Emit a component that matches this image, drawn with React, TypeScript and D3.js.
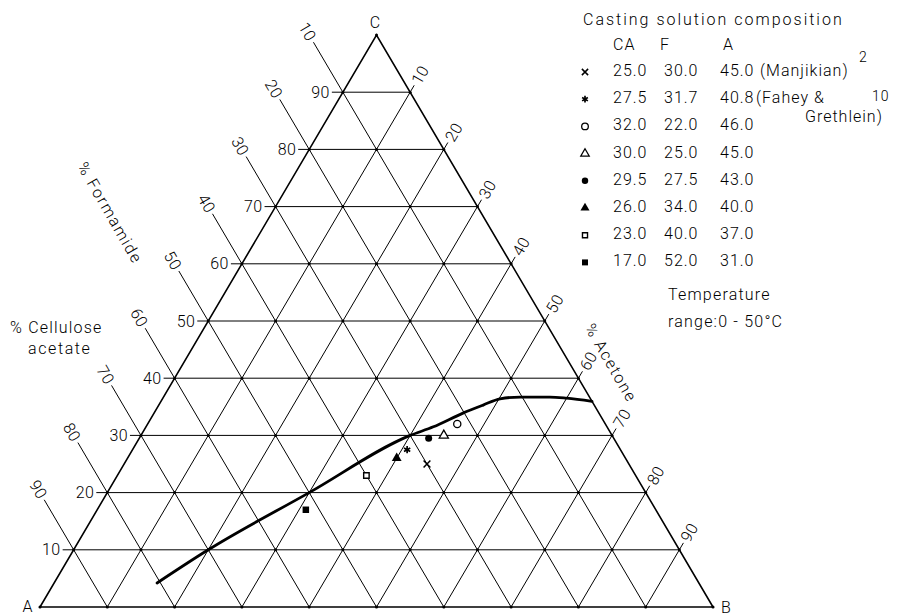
import React from "react";
import * as d3 from "d3";

// Ternary diagram: cellulose acetate (C apex), formamide (A corner), acetone (B corner)
const W = 897;
const H = 616;

const GRID_STEPS = [10, 20, 30, 40, 50, 60, 70, 80, 90];

// Casting solution compositions (wt %)
const symbolKinds = ["times", "asterisk", "openCircle", "openTriangle", "dot", "filledTriangle", "openSquare", "filledSquare"];
const caValues = [25.0, 27.5, 32.0, 30.0, 29.5, 26.0, 23.0, 17.0];
const fValues = [30.0, 31.7, 22.0, 25.0, 27.5, 34.0, 40.0, 52.0];
const aValues = [45.0, 40.8, 46.0, 45.0, 43.0, 40.0, 37.0, 31.0];

// Binodal (phase boundary) curve: cellulose acetate % and acetone %
const curveCA = [4.2, 10, 20, 30, 31.5, 33.9, 35.3, 36.4, 36.7, 36.7, 36.5, 35.95];
const curveAc = [15.3, 20, 30, 40, 42.7, 45.9, 48.2, 50.15, 53.0, 57.4, 60.0, 64.05];

const FONT = "Roboto, 'DejaVu Sans', sans-serif";

const xScale = d3.scaleLinear().domain([0, 100]).range([40, 713]);
const yScale = d3.scaleLinear().domain([0, 100]).range([607, 35]);

// position from cellulose acetate % and acetone %
const pt = (ca: number, ac: number): [number, number] => [xScale(ac + ca / 2), yScale(ca)];

const vA = pt(0, 0);
const vB = pt(0, 100);
const vC = pt(100, 0);

const unit = (p: [number, number], q: [number, number]): [number, number] => {
  const dx = q[0] - p[0];
  const dy = q[1] - p[1];
  const l = Math.hypot(dx, dy);
  return [dx / l, dy / l];
};
const dirBC = unit(vB, vC); // up-left, lines of constant formamide
const dirAC = unit(vA, vC); // up-right, lines of constant acetone

function Marker({ kind, x, y, scale = 1 }: { kind: string; x: number; y: number; scale?: number }) {
  const t = `translate(${x},${y})`;
  const s = scale;
  switch (kind) {
    case "times":
      return <path transform={t} d={d3.symbol(d3.symbolTimes, 32 * s)()!} fill="none" stroke="#000" strokeWidth={1.5} />;
    case "asterisk":
      return <path transform={t} d={d3.symbol(d3.symbolAsterisk, 36 * s)()!} fill="none" stroke="#000" strokeWidth={1.7} />;
    case "openCircle":
      return <circle cx={x} cy={y} r={3.6 * Math.sqrt(s)} fill="#fff" stroke="#000" strokeWidth={1.3} />;
    case "openTriangle":
      return <path transform={t} d={d3.symbol(d3.symbolTriangle, 36 * s)()!} fill="#fff" stroke="#000" strokeWidth={1.3} />;
    case "dot":
      return <circle cx={x} cy={y} r={3.5 * Math.sqrt(s)} fill="#000" />;
    case "filledTriangle":
      return <path transform={t} d={d3.symbol(d3.symbolTriangle, 42 * s)()!} fill="#000" />;
    case "openSquare":
      return <path transform={t} d={d3.symbol(d3.symbolSquare, 30 * s)()!} fill="#fff" stroke="#000" strokeWidth={1.4} />;
    case "filledSquare":
      return <path transform={t} d={d3.symbol(d3.symbolSquare, 42 * s)()!} fill="#000" />;
    default:
      return null;
  }
}

export default function App() {
  const gridLines: JSX.Element[] = [];
  const labels: JSX.Element[] = [];

  GRID_STEPS.forEach((v) => {
    // constant cellulose acetate: horizontal
    const l1 = pt(v, 0);
    const r1 = pt(v, 100 - v);
    gridLines.push(<line key={`ca${v}`} x1={l1[0] - 11} y1={l1[1]} x2={r1[0]} y2={r1[1]} />);
    labels.push(
      <text key={`tca${v}`} x={l1[0] - 13} y={l1[1] + 5.5} textAnchor="end">{v}</text>
    );

    // constant formamide f = v: from AC edge (ca = 100 - v) to AB edge (ac = 100 - v)
    const fTop = pt(100 - v, 0);
    const fBot = pt(0, 100 - v);
    gridLines.push(
      <line key={`f${v}`} x1={fTop[0] + dirBC[0] * 58} y1={fTop[1] + dirBC[1] * 58} x2={fBot[0]} y2={fBot[1]} />
    );
    const fl: [number, number] = [fTop[0] + dirBC[0] * 70, fTop[1] + dirBC[1] * 70];
    labels.push(
      <text key={`tf${v}`} x={fl[0]} y={fl[1]} textAnchor="middle" dominantBaseline="central" transform={`rotate(60,${fl[0]},${fl[1]})`}>{v}</text>
    );

    // constant acetone a = v: from AB edge to CB edge (ca = 100 - v)
    const aBot = pt(0, v);
    const aTop = pt(100 - v, v);
    gridLines.push(
      <line key={`a${v}`} x1={aBot[0]} y1={aBot[1]} x2={aTop[0] + dirAC[0] * 8} y2={aTop[1] + dirAC[1] * 8} />
    );
    const al: [number, number] = [aTop[0] + dirAC[0] * 20, aTop[1] + dirAC[1] * 20];
    labels.push(
      <text key={`ta${v}`} x={al[0]} y={al[1]} textAnchor="middle" dominantBaseline="central" transform={`rotate(-60,${al[0]},${al[1]})`}>{v}</text>
    );
  });

  const nodes: [number, number][] = [];
  for (let ca = 0; ca <= 100; ca += 10) {
    for (let ac = 0; ac + ca <= 100; ac += 10) nodes.push(pt(ca, ac));
  }

  const curvePath = d3
    .line<number>()
    .x((_, i) => pt(curveCA[i], curveAc[i])[0])
    .y((_, i) => pt(curveCA[i], curveAc[i])[1])
    .curve(d3.curveMonotoneX)(curveCA)!;

  const rowY = d3.scaleLinear().domain([0, 7]).range([76, 266.4]);

  return (
    <svg width={W} height={H} style={{ position: "absolute", left: 0, top: 0, background: "#fff" }} fontFamily={FONT} fontWeight={300} fontSize={16}>
      <rect width={W} height={H} fill="#fff" />
      <g stroke="#000" strokeWidth={1} fill="none">{gridLines}</g>
      <path d={`M${vA[0]},${vA[1]}L${vB[0]},${vB[1]}L${vC[0]},${vC[1]}Z`} fill="none" stroke="#000" strokeWidth={1.6} strokeLinejoin="miter" />
      <g fill="#000">
        {nodes.map((n, i) => (
          <circle key={i} cx={n[0]} cy={n[1]} r={1.5} />
        ))}
      </g>
      <g fill="#000" letterSpacing={0.4}>{labels}</g>

      <path d={curvePath} fill="none" stroke="#000" strokeWidth={2.8} strokeLinecap="round" />

      {caValues.map((ca, i) => {
        const p = pt(ca, aValues[i]);
        return <Marker key={i} kind={symbolKinds[i]} x={p[0]} y={p[1]} />;
      })}

      {/* corner and axis titles */}
      <g fill="#000" letterSpacing={1}>
        <text x={vC[0] - 1} y={28} textAnchor="middle">C</text>
        <text x={28} y={612} textAnchor="middle">A</text>
        <text x={721} y={613}>B</text>
        <text x={110} y={213} textAnchor="middle" dominantBaseline="central" transform="rotate(60,110,213)" letterSpacing={1.6}>% Formamide</text>
        <text x={10} y={333} letterSpacing={1.2}>% Cellulose</text>
        <text x={28} y={354} letterSpacing={1.6}>acetate</text>
        <text x={611} y={363} textAnchor="middle" dominantBaseline="central" transform="rotate(60,611,363)" letterSpacing={1.6}>% Acetone</text>
      </g>

      {/* legend */}
      <g fill="#000" letterSpacing={1}>
        <text x={583} y={25} letterSpacing={2}>Casting solution composition</text>
        <text x={613} y={50}>CA</text>
        <text x={660} y={50}>F</text>
        <text x={723} y={50}>A</text>
        {caValues.map((ca, i) => (
          <g key={i}>
            <Marker kind={symbolKinds[i]} x={585} y={rowY(i) - 4} scale={0.85} />
            <text x={613} y={rowY(i)}>{ca.toFixed(1)}</text>
            <text x={664} y={rowY(i)}>{fValues[i].toFixed(1)}</text>
            <text x={720} y={rowY(i)}>{aValues[i].toFixed(1)}</text>
          </g>
        ))}
        <text x={760} y={rowY(0)}>(Manjikian)</text>
        <text x={859} y={62} fontSize={14}>2</text>
        <text x={756} y={rowY(1)}>(Fahey &amp;</text>
        <text x={872} y={101} fontSize={14}>10</text>
        <text x={805} y={122}>Grethlein)</text>
        <text x={668} y={300} letterSpacing={1.2}>Temperature</text>
        <text x={668} y={327} letterSpacing={1.2}>range:0 - 50°C</text>
      </g>
    </svg>
  );
}
